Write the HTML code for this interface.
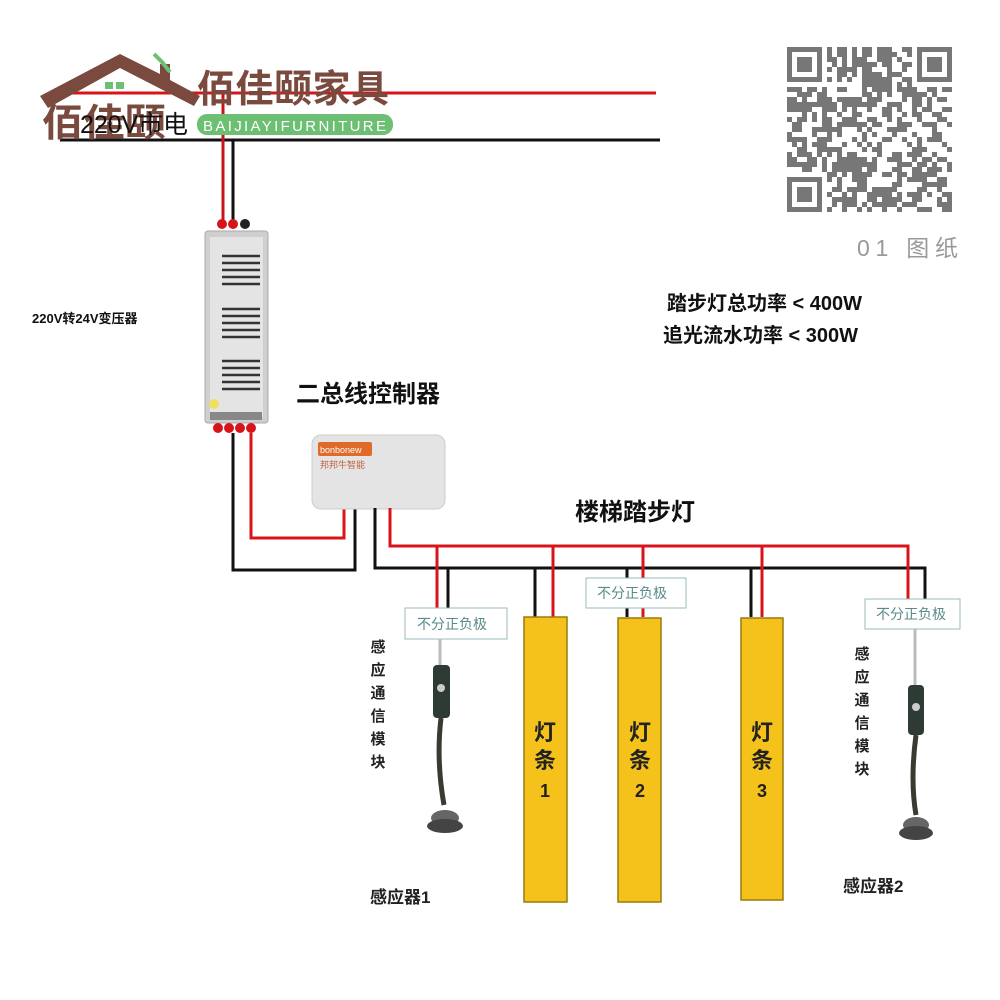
<!DOCTYPE html>
<html><head><meta charset="utf-8"><style>
html,body{margin:0;padding:0;background:#fff}
svg{display:block}
text{font-family:"Liberation Sans","Noto Sans CJK SC",sans-serif}
</style></head><body>
<svg id="s" width="1000" height="1000" viewBox="0 0 1000 1000" xmlns="http://www.w3.org/2000/svg">
<rect width="1000" height="1000" fill="#fff"/>
<!-- mains -->
<line x1="57" y1="93" x2="656" y2="93" stroke="#d8141b" stroke-width="3"/>
<line x1="60" y1="140" x2="660" y2="140" stroke="#111" stroke-width="3"/>
<line x1="223" y1="93" x2="223" y2="220" stroke="#c8141b" stroke-width="3"/>
<line x1="233" y1="140" x2="233" y2="220" stroke="#111" stroke-width="3"/>
<!-- logo -->
<g fill="#7b4a3f">
<polygon points="40,96 120,54 160,74 160,64 170,64 170,80 200,96 194,106 120,68 48,108"/>
</g>
<rect x="105" y="82" width="8" height="7" fill="#6cbf73"/><rect x="116" y="82" width="8" height="7" fill="#6cbf73"/>
<path d="M154,54 L162,62 L170,72" stroke="#6cbf73" stroke-width="4" fill="none"/>
<text x="42" y="136" font-size="38" font-weight="bold" fill="#7b4a3f" textLength="124" lengthAdjust="spacingAndGlyphs">佰佳颐</text>
<text x="197" y="102" font-size="38" font-weight="bold" fill="#7b4a3f" textLength="192">佰佳颐家具</text>
<rect x="197" y="114" width="196" height="21" rx="10" fill="#6cbf73"/>
<text x="203" y="131" font-size="15" fill="#fff" textLength="184" letter-spacing="1">BAIJIAYIFURNITURE</text>
<text x="80" y="133" font-size="25" fill="#111" textLength="108">220V市电</text>
<!-- transformer -->
<circle cx="222" cy="224" r="5" fill="#d8141b"/><circle cx="233" cy="224" r="5" fill="#d8141b"/><circle cx="245" cy="224" r="5" fill="#222"/>
<rect x="205" y="231" width="63" height="192" rx="3" fill="#cfcfcf" stroke="#aaa"/>
<rect x="210" y="237" width="53" height="180" fill="#e4e4e4"/>
<g stroke="#333" stroke-width="2.5">
<line x1="222" y1="256" x2="260" y2="256"/><line x1="222" y1="263" x2="260" y2="263"/><line x1="222" y1="270" x2="260" y2="270"/><line x1="222" y1="277" x2="260" y2="277"/><line x1="222" y1="284" x2="260" y2="284"/>
<line x1="222" y1="309" x2="260" y2="309"/><line x1="222" y1="316" x2="260" y2="316"/><line x1="222" y1="323" x2="260" y2="323"/><line x1="222" y1="330" x2="260" y2="330"/><line x1="222" y1="337" x2="260" y2="337"/>
<line x1="222" y1="361" x2="260" y2="361"/><line x1="222" y1="368" x2="260" y2="368"/><line x1="222" y1="375" x2="260" y2="375"/><line x1="222" y1="382" x2="260" y2="382"/><line x1="222" y1="389" x2="260" y2="389"/>
</g>
<circle cx="214" cy="404" r="5" fill="#f0e060"/>
<rect x="210" y="412" width="52" height="8" fill="#888"/>
<circle cx="218" cy="428" r="5" fill="#d8141b"/><circle cx="229" cy="428" r="5" fill="#d8141b"/><circle cx="240" cy="428" r="5" fill="#d8141b"/><circle cx="251" cy="428" r="5" fill="#d8141b"/>
<text x="32" y="323" font-size="13" font-weight="bold" fill="#111">220V转24V变压器</text>
<!-- wires to controller -->
<polyline points="233,433 233,570 355,570 355,508" fill="none" stroke="#111" stroke-width="3"/>
<polyline points="251,433 251,538 344,538 344,508" fill="none" stroke="#d8141b" stroke-width="3"/>
<text x="296" y="402" font-size="24" font-weight="bold" fill="#111">二总线控制器</text>
<rect x="312" y="435" width="133" height="74" rx="9" fill="#e4e4e4" stroke="#ccc"/>
<rect x="318" y="442" width="54" height="14" rx="2" fill="#e06a2a"/>
<text x="320" y="453" font-size="9" fill="#fff">bonbonew</text>
<text x="320" y="468" font-size="9" fill="#c0603a">邦邦牛智能</text>
<!-- bus -->
<polyline points="375,508 375,568 925,568 925,599" fill="none" stroke="#111" stroke-width="3"/>
<polyline points="390,508 390,546 908,546 908,599" fill="none" stroke="#d8141b" stroke-width="3"/>
<text x="575" y="520" font-size="24" font-weight="bold" fill="#111">楼梯踏步灯</text>
<g stroke-width="3">
<line x1="437" y1="546" x2="437" y2="608" stroke="#d8141b"/><line x1="448" y1="568" x2="448" y2="608" stroke="#111"/>
<line x1="535" y1="568" x2="535" y2="617" stroke="#111"/><line x1="553" y1="546" x2="553" y2="617" stroke="#d8141b"/>
<line x1="627" y1="568" x2="627" y2="617" stroke="#111"/><line x1="643" y1="546" x2="643" y2="617" stroke="#d8141b"/>
<line x1="751" y1="568" x2="751" y2="617" stroke="#111"/><line x1="762" y1="546" x2="762" y2="617" stroke="#d8141b"/>
</g>
<g font-size="14" fill="#5a8a8a">
<rect x="405" y="608" width="102" height="31" fill="#fff" stroke="#9bb"/><text x="417" y="629">不分正负极</text>
<rect x="586" y="578" width="100" height="30" fill="#fff" stroke="#9bb"/><text x="597" y="598">不分正负极</text>
<rect x="865" y="599" width="95" height="30" fill="#fff" stroke="#9bb"/><text x="876" y="619">不分正负极</text>
</g>
<!-- bars -->
<g fill="#f5c21b" stroke="#9a7a10" stroke-width="1.5">
<rect x="524" y="617" width="43" height="285"/><rect x="618" y="618" width="43" height="284"/><rect x="741" y="618" width="42" height="282"/>
</g>
<g font-size="22" font-weight="bold" fill="#222" text-anchor="middle">
<text x="545" y="740">灯</text><text x="545" y="768">条</text><text x="545" y="797" font-size="18">1</text>
<text x="640" y="740">灯</text><text x="640" y="768">条</text><text x="640" y="797" font-size="18">2</text>
<text x="762" y="740">灯</text><text x="762" y="768">条</text><text x="762" y="797" font-size="18">3</text>
</g>
<!-- sensors -->
<g>
<line x1="440" y1="639" x2="440" y2="665" stroke="#bbb" stroke-width="3"/>
<rect x="433" y="665" width="17" height="53" rx="4" fill="#2e3a34"/><circle cx="441" cy="688" r="4" fill="#ccc"/>
<path d="M441,718 Q436,760 444,805" stroke="#3a3a30" stroke-width="5" fill="none"/>
<ellipse cx="445" cy="818" rx="14" ry="8" fill="#666"/><ellipse cx="445" cy="826" rx="18" ry="7" fill="#444"/>
<line x1="915" y1="629" x2="915" y2="690" stroke="#bbb" stroke-width="3"/>
<rect x="908" y="685" width="16" height="50" rx="4" fill="#2e3a34"/><circle cx="916" cy="707" r="4" fill="#ccc"/>
<path d="M916,735 Q910,780 916,815" stroke="#3a3a30" stroke-width="5" fill="none"/>
<ellipse cx="916" cy="825" rx="13" ry="8" fill="#666"/><ellipse cx="916" cy="833" rx="17" ry="7" fill="#444"/>
</g>
<g font-size="15" font-weight="bold" fill="#222" text-anchor="middle">
<text x="378" y="652">感</text><text x="378" y="675">应</text><text x="378" y="698">通</text><text x="378" y="721">信</text><text x="378" y="744">模</text><text x="378" y="767">块</text>
<text x="862" y="659">感</text><text x="862" y="682">应</text><text x="862" y="705">通</text><text x="862" y="728">信</text><text x="862" y="751">模</text><text x="862" y="774">块</text>
</g>
<text x="370" y="903" font-size="17" font-weight="bold" fill="#222">感应器1</text>
<text x="843" y="892" font-size="17" font-weight="bold" fill="#222">感应器2</text>
<!-- power text -->
<text x="667" y="310" font-size="20" font-weight="bold" fill="#111">踏步灯总功率 &lt; 400W</text>
<text x="663" y="342" font-size="20" font-weight="bold" fill="#111">追光流水功率 &lt; 300W</text>
<text x="857" y="256" font-size="23" fill="#999" textLength="101">01  图纸</text>
<!-- QR -->
<g id="qr" fill="#777"></g>
</svg>
<script>
(function(){var g=document.getElementById('qr'),ns='http://www.w3.org/2000/svg',x0=787,y0=47,m=5,N=33,seed=7;
function r(){seed=(seed*9301+49297)%233280;return seed/233280;}
function R(x,y,w,h){var e=document.createElementNS(ns,'rect');e.setAttribute('x',x);e.setAttribute('y',y);e.setAttribute('width',w);e.setAttribute('height',h);g.appendChild(e);}
function finder(cx,cy){R(x0+cx*m,y0+cy*m,7*m,m);R(x0+cx*m,y0+(cy+6)*m,7*m,m);R(x0+cx*m,y0+cy*m,m,7*m);R(x0+(cx+6)*m,y0+cy*m,m,7*m);R(x0+(cx+2)*m,y0+(cy+2)*m,3*m,3*m);}
for(var i=0;i<N;i++)for(var j=0;j<N;j++){if((i<8&&j<8)||(i>N-9&&j<8)||(i<8&&j>N-9))continue;if(r()<0.5)R(x0+i*m,y0+j*m,m,m);}
finder(0,0);finder(N-7,0);finder(0,N-7);})();
</script>
</body></html>
